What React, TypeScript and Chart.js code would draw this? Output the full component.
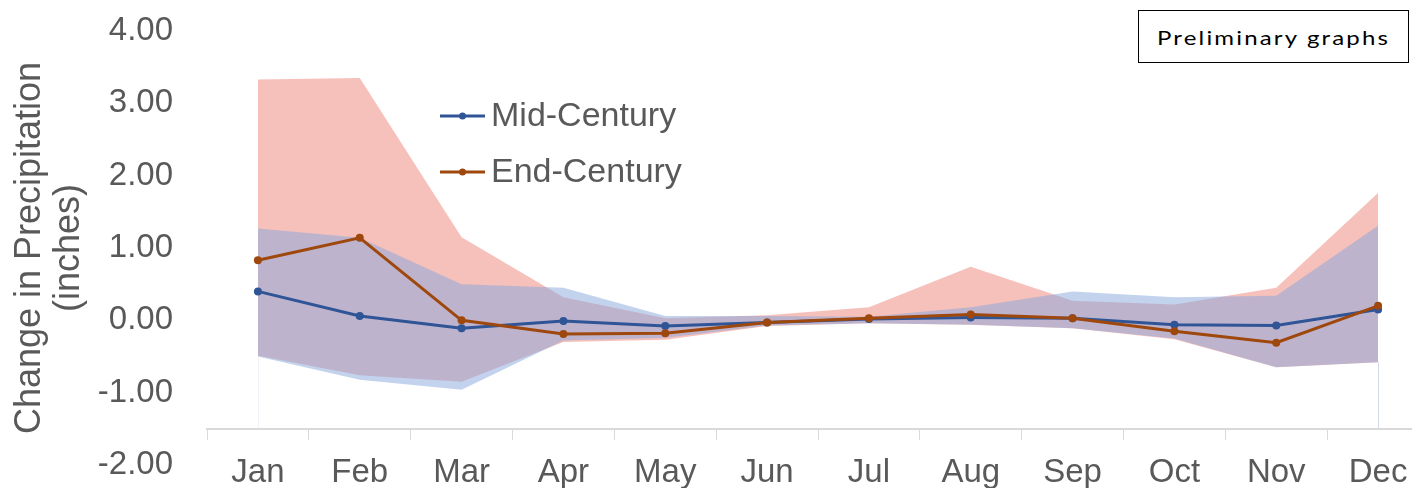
import React, { useEffect, useRef } from "react";
import { Chart, registerables } from "chart.js";

Chart.register(...registerables);

// ---- data ----
const months = ["Jan", "Feb", "Mar", "Apr", "May", "Jun", "Jul", "Aug", "Sep", "Oct", "Nov", "Dec"];
const midCentury = [0.40, 0.06, -0.11, -0.01, -0.08, -0.03, 0.02, 0.04, 0.03, -0.06, -0.07, 0.15];
const endCentury = [0.83, 1.14, 0.00, -0.19, -0.18, -0.03, 0.03, 0.08, 0.03, -0.15, -0.31, 0.20];
const midHigh = [1.27, 1.14, 0.50, 0.45, 0.06, 0.06, 0.05, 0.18, 0.40, 0.32, 0.34, 1.31];
const midLow = [-0.50, -0.82, -0.96, -0.28, -0.24, -0.07, -0.04, -0.06, -0.11, -0.25, -0.65, -0.58];
const endHigh = [3.33, 3.35, 1.15, 0.32, 0.03, 0.07, 0.18, 0.74, 0.27, 0.22, 0.45, 1.76];
const endLow = [-0.49, -0.76, -0.85, -0.30, -0.27, -0.08, -0.04, -0.06, -0.11, -0.26, -0.65, -0.58];
const yMin = -2;
const yMax = 4;
const yStep = 1;
const xAxisCross = -1.5;
const legendLabels = ["Mid-Century", "End-Century"];
const yTitle = ["Change in Precipitation", "(inches)"];
const noteText = "Preliminary graphs";

// ---- styles ----
const BLUE = "#2F5597";
const ORANGE = "#9E480E";
const BLUE_BAND = "rgba(135,167,221,0.5)";
const PINK_BAND = "rgba(237,129,119,0.5)";
const TEXT = "#595959";
const AXIS = "#D9D9D9";
const FONT = "'Liberation Sans', Arial, sans-serif";

const legendPlugin = {
  id: "customLegend",
  afterDatasetsDraw(chart: any) {
    const ctx = chart.ctx;
    const colors = [BLUE, ORANGE];
    ctx.save();
    legendLabels.forEach((label, k) => {
      const y = 116 + k * 56;
      ctx.strokeStyle = colors[k];
      ctx.lineWidth = 3;
      ctx.beginPath();
      ctx.moveTo(440, y);
      ctx.lineTo(485, y);
      ctx.stroke();
      ctx.fillStyle = colors[k];
      ctx.beginPath();
      ctx.arc(462.5, y, 3.5, 0, Math.PI * 2);
      ctx.fill();
      ctx.fillStyle = TEXT;
      ctx.font = `34px ${FONT}`;
      ctx.textBaseline = "middle";
      ctx.textAlign = "left";
      ctx.fillText(label, 491, y + 1);
    });
    ctx.restore();
  },
};

const edgePlugin = {
  id: "bandEdges",
  beforeDatasetsDraw(chart: any) {
    const ctx = chart.ctx;
    const xs = chart.scales.x;
    const ys = chart.scales.y;
    const axisY = ys.getPixelForValue(xAxisCross);
    ctx.save();
    [0, months.length - 1].forEach((i, k) => {
      const x = Math.round(xs.getPixelForValue(i)) + 0.5;
      const top = ys.getPixelForValue(Math.min(midLow[i], endLow[i]));
      ctx.strokeStyle = k === 0 ? "rgba(215,222,236,0.35)" : "rgba(205,214,232,0.9)";
      ctx.lineWidth = 1;
      ctx.beginPath();
      ctx.moveTo(x, top);
      ctx.lineTo(x, axisY);
      ctx.stroke();
    });
    ctx.restore();
  },
};

export default function App() {
  const ref = useRef<HTMLCanvasElement | null>(null);

  useEffect(() => {
    if (!ref.current) return;
    const bandLine = {
      borderWidth: 1,
      borderColor: "rgba(0,0,0,0)",
      pointRadius: 0,
      pointHoverRadius: 0,
      tension: 0,
    };
    const chart = new Chart(ref.current, {
      type: "line",
      data: {
        labels: months,
        datasets: [
          {
            label: legendLabels[1],
            data: endCentury,
            borderColor: ORANGE,
            backgroundColor: ORANGE,
            borderWidth: 3,
            pointRadius: 4,
            pointHoverRadius: 4,
            pointBorderWidth: 0,
            fill: false,
            tension: 0,
          },
          {
            label: legendLabels[0],
            data: midCentury,
            borderColor: BLUE,
            backgroundColor: BLUE,
            borderWidth: 3,
            pointRadius: 4,
            pointHoverRadius: 4,
            pointBorderWidth: 0,
            fill: false,
            tension: 0,
          },
          { label: "midLow", data: midLow, fill: false, ...bandLine },
          { label: "midHigh", data: midHigh, fill: "-1", backgroundColor: BLUE_BAND, ...bandLine },
          { label: "endLow", data: endLow, fill: false, ...bandLine },
          { label: "endHigh", data: endHigh, fill: "-1", backgroundColor: PINK_BAND, ...bandLine },
        ],
      },
      options: {
        responsive: false,
        animation: false,
        devicePixelRatio: 1,
        layout: { padding: { left: 0, right: 11, top: 31, bottom: 23 } },
        plugins: {
          legend: { display: false },
          tooltip: { enabled: false },
        },
        scales: {
          x: {
            type: "category",
            offset: true,
            position: { y: xAxisCross },
            grid: {
              display: true,
              drawOnChartArea: false,
              drawTicks: true,
              tickLength: 10,
              color: AXIS,
              lineWidth: 1,
              offset: true,
            },
            border: { display: true, color: AXIS, width: 2 },
            ticks: {
              color: TEXT,
              font: { family: FONT, size: 33 },
              padding: 14,
              maxRotation: 0,
              autoSkip: false,
            },
          },
          y: {
            type: "linear",
            min: yMin,
            max: yMax,
            ticks: {
              stepSize: yStep,
              color: TEXT,
              font: { family: FONT, size: 33 },
              padding: 3,
              callback: (v: any) => Number(v).toFixed(2),
            },
            grid: { display: false, drawTicks: true, tickLength: 31 },
            border: { display: false },
            title: {
              display: true,
              text: yTitle,
              color: TEXT,
              font: { family: FONT, size: 36, lineHeight: 1.08 },
              padding: { top: 11, bottom: 0 },
            },
            afterFit: (s: any) => {
              s.width = 207;
            },
          },
        },
      },
      plugins: [edgePlugin, legendPlugin],
    } as any);
    return () => chart.destroy();
  }, []);

  return (
    <div
      style={{
        position: "absolute",
        left: 0,
        top: 0,
        width: 1412,
        height: 488,
        overflow: "hidden",
        background: "#ffffff",
      }}
    >
      <canvas ref={ref} width={1440} height={488} style={{ display: "block" }} />
      <div
        style={{
          position: "absolute",
          left: 1138,
          top: 10,
          width: 271,
          height: 53,
          boxSizing: "border-box",
          border: "1.5px solid #000",
          background: "#fff",
          display: "flex",
          alignItems: "center",
          paddingLeft: 18,
          overflow: "hidden",
          color: "#000",
          whiteSpace: "nowrap",
        }}
      >
        <span
          style={{
            display: "inline-block",
            fontFamily: "Lato, 'Open Sans', sans-serif",
            fontSize: 20,
            letterSpacing: 1.8,
            transform: "scaleX(1.2)",
            transformOrigin: "left center",
          }}
        >
          {noteText}
        </span>
      </div>
    </div>
  );
}
